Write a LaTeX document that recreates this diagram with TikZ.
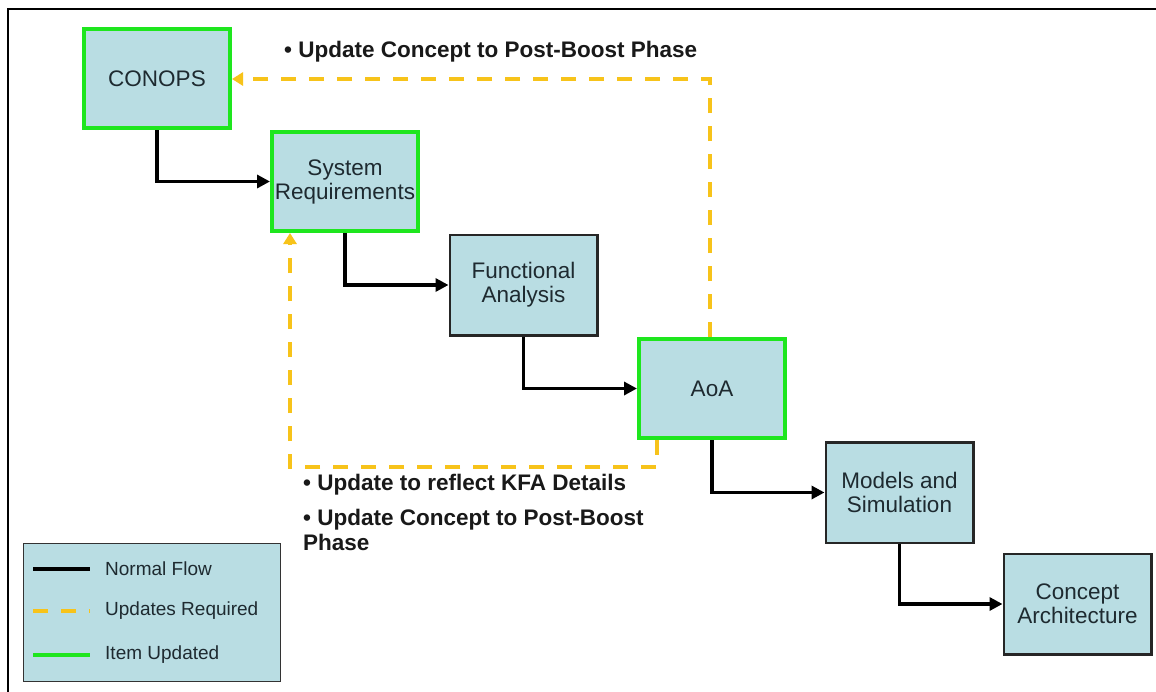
\documentclass[tikz,border=0pt]{standalone}
\usepackage{fontspec}
\setmainfont{Liberation Sans}
\usetikzlibrary{arrows.meta}
\definecolor{boxfill}{HTML}{B9DDE3}
\definecolor{updgreen}{HTML}{1EE61E}
\definecolor{updyellow}{HTML}{F7C31A}
\definecolor{boxtext}{HTML}{1E2A30}
\tikzset{
  stage/.style={draw=black!85, line width=2.5pt, fill=boxfill, minimum width=147.5pt,
    minimum height=100.5pt, align=center, text=boxtext,
    font=\fontsize{22.5}{24}\selectfont, inner sep=0pt},
  updated/.style={stage, draw=updgreen, line width=4pt, minimum width=146pt, minimum height=99pt},
  flow/.style={draw=black, line width=3.8pt, -{Triangle[length=13pt,width=13pt]}},
  needupd/.style={draw=updyellow, line width=4pt, dash pattern=on 15pt off 13pt,
    -{Triangle[length=11pt,width=13pt]}},
  note/.style={font=\fontsize{22.5}{25}\selectfont\bfseries, text=black!90, inner sep=0pt, align=left},
  legtext/.style={font=\fontsize{19}{22}\selectfont, text=boxtext, inner sep=0pt, anchor=west}
}
\begin{document}
\begin{tikzpicture}[x=1pt,y=-1pt]
\useasboundingbox (0,0) rectangle (1156,691);
\fill[white] (0,0) rectangle (1156,691);
% page frame
\draw[line width=2.5pt, black] (8,700) -- (8,9) -- (1170,9);

% process stages
\node[updated] (conops) at (157,78.5) {CONOPS};
\node[updated] (sysreq) at (345,181.5) {System\\Requirements};
\node[stage]   (func)   at (523.5,285) {Functional\\Analysis};
\node[updated] (aoa)    at (712,388.5) {AoA};
\node[stage]   (models) at (899.5,492.5) {Models and\\Simulation};
\node[stage]   (arch)   at (1077.5,604) {Concept\\Architecture};

% normal flow
\draw[flow] (conops.south) |- (sysreq.west);
\draw[flow] (sysreq.south) |- (func.west);
\draw[flow] (func.south) |- (aoa.west);
\draw[flow] (aoa.south) |- (models.west);
\draw[flow] (models.south) |- (arch.west);

% update loops
\coordinate (topcorner) at (710,79);
\draw[needupd] (aoa.north -| topcorner) -- (topcorner) -- (conops.east |- topcorner);
\coordinate (lowright) at (657,467);
\coordinate (lowleft) at (290,467);
\draw[needupd] (aoa.south -| lowright) -- (lowright) -- (lowleft) -- (lowleft |- sysreq.south);

% notes
\node[note, anchor=west] (topnote) at (284,52) {\textbullet\ Update Concept to Post-Boost Phase};
\node[note, anchor=west] (kfanote) at (303,485) {\textbullet\ Update to reflect KFA Details};
\node[note, anchor=north west] (postnote) at (303,509) {\textbullet\ Update Concept to Post-Boost\\Phase};

% legend
\node[draw=black!80, line width=1.8pt, fill=boxfill, minimum width=257pt, minimum height=138pt,
  inner sep=0pt] (legend) at (152,612.5) {};
\coordinate (la1) at (33,569); \coordinate (lb1) at (90,569);
\coordinate (la2) at (33,611); \coordinate (lb2) at (90,611);
\coordinate (la3) at (33,655); \coordinate (lb3) at (90,655);
\draw[black, line width=3.5pt] (la1) -- (lb1);
\draw[updyellow, line width=3.5pt, dash pattern=on 15pt off 13pt] (la2) -- (lb2);
\draw[updgreen, line width=3.5pt] (la3) -- (lb3);
\node[legtext] (l1) at (105,569) {Normal Flow};
\node[legtext] (l2) at (105,611) {Updates Required};
\node[legtext] (l3) at (105,655) {Item Updated};
\end{tikzpicture}
\end{document}
